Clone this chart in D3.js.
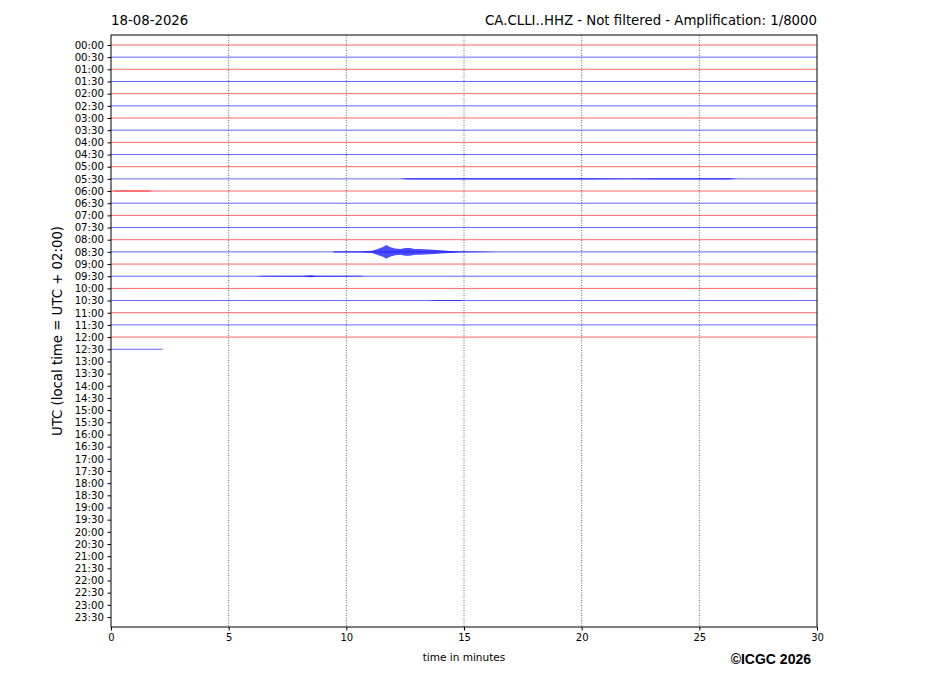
<!DOCTYPE html>
<html>
<head>
<meta charset="utf-8">
<script src="https://cdn.jsdelivr.net/npm/d3@7"></script>
<style>
  body { margin: 0; background: #fff; }
  svg { font-family: "DejaVu Sans", sans-serif; }
</style>
</head>
<body>
<svg id="chart"></svg>
<script>
const rowLabels = [
    '00:00', '00:30', '01:00', '01:30', '02:00', '02:30', '03:00', '03:30',
    '04:00', '04:30', '05:00', '05:30', '06:00', '06:30', '07:00', '07:30',
    '08:00', '08:30', '09:00', '09:30', '10:00', '10:30', '11:00', '11:30',
    '12:00', '12:30', '13:00', '13:30', '14:00', '14:30', '15:00', '15:30',
    '16:00', '16:30', '17:00', '17:30', '18:00', '18:30', '19:00', '19:30',
    '20:00', '20:30', '21:00', '21:30', '22:00', '22:30', '23:00', '23:30'
];
// minutes recorded in each half-hour row (only rows with data)
const recordedMinutes = [
    30, 30, 30, 30, 30, 30, 30, 30, 30, 30, 30, 30, 30,
    30, 30, 30, 30, 30, 30, 30, 30, 30, 30, 30, 30, 2.2
];
const minuteTicks = [0, 5, 10, 15, 20, 25, 30];
const traceColors = ['red', 'blue'];

// signal envelopes [minute, counts]
const env0530 = [[12.3, 0], [12.6, 350], [16, 400], [19.5, 450], [20.5, 350], [22, 300], [23.2, 450], [26.3, 400], [26.6, 0]];
const env0600 = [[0, 0], [0.2, 300], [1.6, 300], [1.8, 0]];
const env0830 = [[9.4, 0], [9.5, 450], [10.6, 450], [11.1, 800], [11.3, 1800], [11.56, 3200],
    [11.7, 4500], [11.85, 3200], [12.07, 2200], [12.3, 1900], [12.5, 2500], [12.7, 2500], [12.9, 1900],
    [13.1, 1900], [13.55, 1500], [14.0, 1000], [14.4, 650], [14.8, 450], [15.7, 300], [16.5, 0]];
const env0930 = [[6.2, 0], [6.4, 250], [8.2, 300], [8.5, 700], [8.7, 300], [10.6, 250], [10.8, 0]];
const env1030 = [[13.5, 0], [13.8, 250], [14.8, 250], [15, 0]];

const width = 927;
const height = 696;
const margin = {top: 35, right: 110, bottom: 69, left: 111};

const svg = d3.select('svg#chart')
    .attr('width', width)
    .attr('height', height);

const x = d3.scaleLinear()
    .domain([0, 30])
    .range([margin.left, width - margin.right]);

const y = d3.scaleLinear()
    .domain([-0.82, rowLabels.length - 1 + 0.82])
    .range([margin.top, height - margin.bottom]);

const rowStep = y(1) - y(0);
// Amplification 1/8000: 8000 counts = one row
const amp = d3.scaleLinear().domain([0, 8000]).range([0, rowStep]);

// vertical dotted grid
svg.append('g')
    .selectAll('line')
    .data(minuteTicks.slice(1, -1))
    .join('line')
    .attr('x1', d => x(d))
    .attr('x2', d => x(d))
    .attr('y1', margin.top)
    .attr('y2', height - margin.bottom)
    .attr('stroke', '#444')
    .attr('stroke-width', 0.8)
    .attr('stroke-dasharray', '1,1.5');

// trace baselines
svg.append('g')
    .selectAll('line')
    .data(recordedMinutes)
    .join('line')
    .attr('x1', x(0))
    .attr('x2', d => x(d))
    .attr('y1', (d, i) => y(i))
    .attr('y2', (d, i) => y(i))
    .attr('stroke', (d, i) => traceColors[i % 2])
    .attr('stroke-opacity', 0.8)
    .attr('stroke-width', 0.75);

// signal envelopes
const envelopes = [
    {row: '05:30', env: env0530},
    {row: '06:00', env: env0600},
    {row: '08:30', env: env0830},
    {row: '09:30', env: env0930},
    {row: '10:30', env: env1030}
];

envelopes.forEach(e => {
    const i = rowLabels.indexOf(e.row);
    const base = y(i);
    const area = d3.area()
        .x(d => x(d[0]))
        .y0(d => base - amp(d[1]))
        .y1(d => base + amp(d[1]));
    svg.append('path')
        .datum(e.env)
        .attr('d', area)
        .attr('fill', traceColors[i % 2])
        .attr('fill-opacity', 0.7);
});

// axes
const xAxis = d3.axisBottom(x).tickValues(minuteTicks).tickSize(3.5).tickPadding(3.5);
svg.append('g')
    .attr('transform', `translate(0,${height - margin.bottom})`)
    .call(xAxis)
    .call(g => g.select('.domain').remove())
    .call(g => g.selectAll('text').attr('font-size', 10).attr('fill', '#000').attr('font-family', 'DejaVu Sans'));

const yAxis = d3.axisLeft(y)
    .tickValues(d3.range(rowLabels.length))
    .tickFormat(i => rowLabels[i])
    .tickSize(3.5)
    .tickPadding(3.5);
svg.append('g')
    .attr('transform', `translate(${margin.left},0)`)
    .call(yAxis)
    .call(g => g.select('.domain').remove())
    .call(g => g.selectAll('text').attr('font-size', 10.2).attr('fill', '#000').attr('font-family', 'DejaVu Sans'));

// frame
svg.append('rect')
    .attr('x', margin.left)
    .attr('y', margin.top)
    .attr('width', x(30) - x(0))
    .attr('height', height - margin.bottom - margin.top)
    .attr('fill', 'none')
    .attr('stroke', '#000')
    .attr('stroke-width', 1);

// titles and labels
svg.append('text')
    .attr('x', margin.left)
    .attr('y', 25)
    .attr('font-size', 13.3)
    .text('18-08-2026');

svg.append('text')
    .attr('x', width - margin.right)
    .attr('y', 25)
    .attr('text-anchor', 'end')
    .attr('font-size', 13.3)
    .text('CA.CLLI..HHZ - Not filtered - Amplification: 1/8000');

svg.append('text')
    .attr('x', (x(0) + x(30)) / 2)
    .attr('y', 661)
    .attr('text-anchor', 'middle')
    .attr('font-size', 10.5)
    .text('time in minutes');

svg.append('text')
    .attr('transform', `translate(62,${(margin.top + height - margin.bottom) / 2}) rotate(-90)`)
    .attr('text-anchor', 'middle')
    .attr('font-size', 13.3)
    .text('UTC (local time = UTC + 02:00)');

svg.append('text')
    .attr('x', 811)
    .attr('y', 664)
    .attr('text-anchor', 'end')
    .attr('font-size', 14)
    .attr('font-weight', 'bold')
    .attr('font-family', 'Liberation Sans, Arial, sans-serif')
    .text('©ICGC 2026');
</script>
</body>
</html>
